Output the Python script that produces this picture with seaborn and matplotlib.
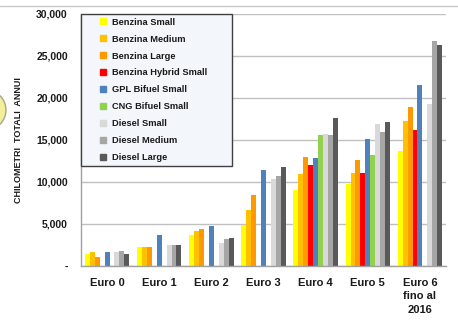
import matplotlib
matplotlib.use("Agg")
import matplotlib.pyplot as plt
from matplotlib.lines import Line2D
from matplotlib.patches import Ellipse
from matplotlib.ticker import FuncFormatter, FixedLocator
import seaborn as sns
import pandas as pd

# chart data
categories = ["Euro 0", "Euro 1", "Euro 2", "Euro 3", "Euro 4", "Euro 5", "Euro 6\nfino al\n2016"]
series = ["Benzina Small", "Benzina Medium", "Benzina Large", "Benzina Hybrid Small",
          "GPL Bifuel Small", "CNG Bifuel Small", "Diesel Small", "Diesel Medium", "Diesel Large"]
colors = ["#FFFF00", "#FFC000", "#FF9900", "#FF0000", "#4F81BD",
          "#92D050", "#D9D9D9", "#A6A6A6", "#595959"]

benzina_small = [1450, 2250, 3700, 4900, 9000, 9800, 13700]
benzina_medium = [1700, 2300, 4200, 6700, 11000, 11100, 17300]
benzina_large = [1050, 2250, 4450, 8500, 13000, 12600, 18900]
benzina_hybrid = [0, 0, 0, 0, 12000, 11050, 16200]
gpl_small = [1700, 3650, 4800, 11400, 12900, 15100, 21500]
cng_small = [0, 0, 0, 0, 15600, 13200, 0]
diesel_small = [1700, 2450, 2700, 10400, 15700, 16900, 19250]
diesel_medium = [1800, 2500, 3250, 10700, 15600, 15900, 26750]
diesel_large = [1450, 2450, 3350, 11800, 17600, 17100, 26350]

values = [benzina_small, benzina_medium, benzina_large, benzina_hybrid, gpl_small,
          cng_small, diesel_small, diesel_medium, diesel_large]

rows = []
for name, vals in zip(series, values):
    for cat, v in zip(categories, vals):
        rows.append({"categoria": cat, "serie": name, "km": v})
df = pd.DataFrame(rows)

sns.set_style("white")
plt.rcParams["font.family"] = ["Liberation Sans Narrow", "Liberation Sans", "DejaVu Sans"]

W, H = 458, 334
fig = plt.figure(figsize=(W / 100, H / 100), dpi=100)
ax = fig.add_axes([81 / W, 1 - 266 / H, 365 / W, 252 / H])

sns.barplot(data=df, x="categoria", y="km", hue="serie", order=categories,
            hue_order=series, palette=colors, width=0.85, linewidth=0,
            saturation=1, legend=False, ax=ax)

ax.set_ylim(0, 30000)
ax.set_xlim(-0.5, len(categories) - 0.5)
ax.yaxis.set_major_locator(FixedLocator(range(0, 30001, 5000)))
ax.yaxis.set_major_formatter(FuncFormatter(lambda v, p: "-" if v == 0 else f"{int(v):,}"))
ax.grid(axis="y", color="#C0C0C0", linewidth=1)
ax.set_axisbelow(True)

for s in ["top", "right"]:
    ax.spines[s].set_visible(False)
for s in ["left", "bottom"]:
    ax.spines[s].set_color("#A0A0A0")
    ax.spines[s].set_linewidth(1)

ax.tick_params(axis="y", which="major", length=3, width=1, color="#A0A0A0",
               direction="out", pad=6.5, labelsize=7.5, labelcolor="#1a1a1a")
ax.tick_params(axis="x", which="major", length=0, pad=8.5, labelsize=8, labelcolor="#1a1a1a")
ax.set_xticks([i - 0.5 for i in range(len(categories) + 1)], minor=True)
ax.tick_params(axis="x", which="minor", length=4, width=1, color="#A0A0A0", direction="out")
for lab in ax.get_yticklabels():
    lab.set_fontweight("bold")
for lab in ax.get_xticklabels():
    lab.set_fontweight("bold")
    lab.set_linespacing(1.45)

ax.set_xlabel("")
ax.set_ylabel("CHILOMETRI  TOTALI  ANNUI", fontsize=6.5, fontweight="bold", color="#1a1a1a")
ax.yaxis.set_label_coords((23 - 81) / 365, 0.5)

handles = [Line2D([], [], marker="s", linestyle="none", markersize=4.8,
                  markerfacecolor=c, markeredgecolor=c) for c in colors]
leg = ax.legend(handles, series, loc="upper left", bbox_to_anchor=(0, 0, 0.414, 1.0),
                mode="expand", borderaxespad=0, frameon=True, fancybox=False,
                prop={"weight": "bold", "size": 6.7}, handlelength=4.0,
                handletextpad=-1.12, labelspacing=0.85, borderpad=0.4)
leg.get_frame().set_edgecolor("#404040")
leg.get_frame().set_linewidth(1)
leg.get_frame().set_facecolor("#F3F6FA")
leg.get_frame().set_alpha(1)
for t in leg.get_texts():
    t.set_color("#1a1a1a")

# slide decorations
fig.add_artist(Line2D([0, 1], [1 - 6 / H, 1 - 6 / H], color="#C8C8C8", linewidth=1,
                      transform=fig.transFigure))
fig.add_artist(Ellipse((-14 / W, 1 - 110 / H), 40 / W, 40 / H, transform=fig.transFigure,
                       facecolor="#F2EE9A", edgecolor="#A0A890", linewidth=1))

fig.savefig("out.png", dpi=100)
